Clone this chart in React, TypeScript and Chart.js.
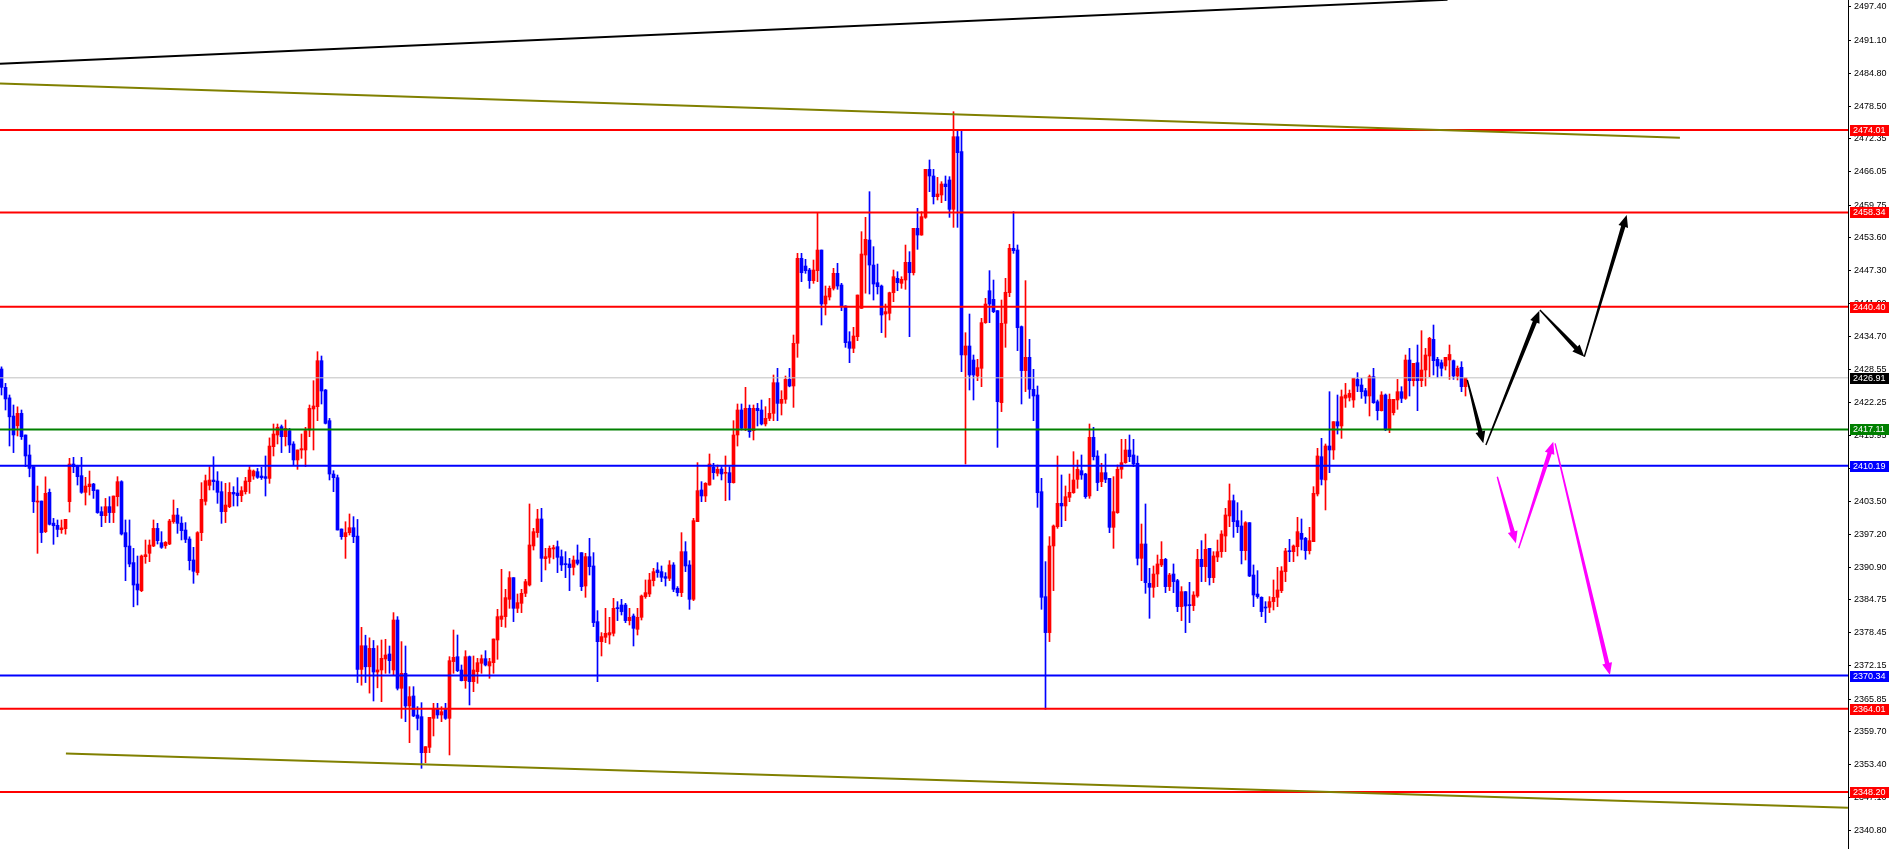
import React, { useEffect, useRef } from "react";
import { Chart, registerables } from "chart.js";
Chart.register(...registerables);

// ---- Candle data (index 0 = leftmost bar) ----
const OPEN = [
2428.59,2425.1,2423.1,2419.65,2417.8,2420.16,2416.05,2412.25,2410.03,2403.3,
2403.5,2397.68,2405.15,2399.3,2398.88,2398.05,2398.24,2403.38,2410.53,2410.2,
2408.32,2405.15,2406.23,2406.73,2405.6,2401.48,2400.72,2402.43,2401.3,2404.33,
2407.18,2397.49,2394.95,2391.8,2387.73,2386.46,2392.92,2393.56,2394.95,2398.3,
2395.58,2395.0,2395.33,2399.57,2400.84,2399.3,2397.99,2396.28,2392.3,2389.9,
2397.49,2403.44,2406.48,2407.49,2407.3,2405.28,2401.48,2402.43,2405.15,2405.02,
2404.52,2405.28,2407.18,2408.25,2409.08,2408.25,2408.13,2407.8,2413.83,2416.05,
2417.63,2415.73,2416.87,2414.34,2411.3,2413.2,2413.2,2417.0,2420.99,2421.43,
2430.17,2424.6,2418.77,2408.63,2407.94,2398.18,2396.72,2397.49,2398.43,2396.85,
2371.5,2376.0,2372.0,2375.5,2371.0,2371.39,2373.48,2374.43,2371.39,2380.89,
2367.91,2370.76,2364.55,2366.45,2362.84,2362.52,2355.68,2356.69,2362.2,2363.92,
2362.84,2364.11,2362.2,2372.98,2373.92,2371.39,2369.36,2373.92,2369.17,2371.07,
2372.66,2373.54,2372.15,2372.78,2377.09,2381.02,2381.53,2384.82,2388.94,2383.11,
2384.06,2385.96,2387.54,2394.96,2397.49,2400.09,2392.55,2392.8,2394.39,2394.83,
2392.93,2391.54,2391.54,2390.9,2392.29,2393.69,2387.35,2392.93,2391.16,2380.58,
2376.77,2377.6,2378.04,2378.36,2383.24,2383.74,2383.74,2380.77,2381.65,2379.12,
2381.4,2385.33,2385.83,2388.37,2390.4,2390.08,2389.13,2388.81,2391.35,2386.91,
2386.09,2393.88,2391.35,2384.82,2399.58,2405.6,2404.46,2406.55,2409.91,2408.77,
2409.59,2408.77,2408.89,2406.99,2416.05,2420.8,2417.31,2421.12,2416.87,2421.12,
2420.8,2418.14,2419.21,2420.16,2425.99,2422.06,2422.83,2426.62,2425.36,2433.47,
2449.62,2448.16,2447.4,2445.38,2447.28,2451.2,2440.94,2442.27,2443.92,2446.77,
2444.55,2440.56,2433.78,2432.52,2434.73,2440.11,2450.25,2453.1,2448.35,2444.99,
2444.36,2439.04,2439.17,2443.09,2445.82,2444.87,2445.5,2448.86,2446.89,2455.32,
2454.05,2457.41,2466.53,2465.27,2461.34,2461.66,2463.75,2464.51,2458.93,2472.74,
2469.89,2431.25,2432.96,2430.3,2427.26,2428.72,2437.4,2443.47,2441.83,2439.68,
2422.19,2437.27,2443.1,2451.53,2451.21,2436.64,2428.28,2430.81,2424.73,2423.65,
2405.28,2385.33,2378.49,2394.96,2398.63,2403.06,2402.56,2404.2,2405.09,2407.62,
2409.27,2408.64,2404.46,2415.61,2412.06,2407.18,2408.89,2407.81,2398.5,2401.29,
2409.53,2410.79,2413.2,2412.25,2410.67,2392.61,2395.34,2387.86,2387.1,2389.63,
2391.35,2392.42,2387.23,2389.63,2388.37,2383.43,2386.28,2383.74,2383.62,2385.45,
2392.42,2391.03,2394.51,2388.94,2392.86,2393.88,2396.85,2400.66,2403.57,2399.77,
2398.76,2394.07,2399.39,2389.44,2385.83,2385.2,2383.3,2383.3,2384.38,2385.2,
2386.47,2390.08,2394.01,2393.88,2394.83,2397.36,2396.41,2394.07,2395.78,2404.84,
2411.93,2407.5,2413.96,2413.2,2418.58,2417.76,2423.05,2423.2,2422.7,2426.62,
2425.55,2424.47,2423.46,2427.13,2422.38,2420.67,2423.65,2417.12,2420.29,2422.7,
2424.28,2423.01,2430.3,2426.37,2429.79,2426.37,2428.4,2431.06,2434.23,2430.43,
2429.79,2429.16,2430.3,2430.17,2427.26,2428.91,2425.23
];
const HIGH = [
2429.0,2425.86,2423.65,2421.75,2421.4,2420.8,2416.05,2414.15,2410.03,2406.35,
2403.5,2408.1,2405.78,2400.2,2399.9,2399.9,2400.02,2411.61,2411.8,2410.3,
2411.8,2408.0,2409.2,2406.86,2405.6,2402.4,2404.0,2404.33,2404.45,2408.13,
2407.36,2399.9,2399.9,2394.5,2393.05,2393.24,2396.09,2396.1,2399.9,2399.26,
2397.68,2395.8,2400.02,2403.7,2402.1,2400.5,2399.4,2396.7,2394.7,2397.68,
2406.99,2408.44,2410.03,2411.93,2409.08,2407.18,2406.86,2406.99,2406.23,2407.94,
2406.23,2408.0,2410.03,2409.4,2409.7,2409.9,2412.06,2415.5,2418.14,2418.14,
2417.95,2418.9,2417.3,2414.78,2413.2,2416.24,2417.5,2421.75,2426.37,2431.88,
2431.06,2424.7,2419.2,2409.27,2408.44,2398.2,2399.57,2401.04,2400.53,2400.0,
2379.5,2378.0,2377.5,2377.0,2376.0,2377.09,2377.22,2375.95,2382.29,2381.53,
2376.78,2375.95,2368.22,2368.22,2364.42,2365.18,2356.82,2362.39,2365.05,2365.05,
2364.42,2365.05,2373.92,2378.99,2378.04,2372.34,2375.06,2374.05,2374.05,2373.61,
2374.24,2375.06,2373.61,2377.28,2382.92,2390.52,2386.72,2390.08,2388.94,2385.83,
2386.72,2388.62,2402.94,2398.31,2401.92,2402.11,2394.51,2394.96,2395.1,2395.91,
2394.2,2393.88,2392.61,2393.06,2395.15,2393.69,2393.56,2396.41,2393.69,2382.67,
2378.49,2383.11,2381.4,2385.01,2384.38,2384.82,2384.06,2383.11,2382.03,2383.11,
2385.64,2388.5,2389.76,2390.71,2391.79,2391.16,2389.89,2392.17,2391.79,2387.23,
2397.49,2395.78,2392.17,2400.21,2410.79,2407.18,2406.99,2412.44,2410.67,2410.35,
2410.03,2412.06,2410.03,2418.77,2421.94,2421.94,2425.11,2421.75,2421.75,2422.06,
2422.7,2421.43,2423.01,2427.45,2428.72,2424.47,2427.26,2428.72,2435.05,2450.57,
2450.57,2449.43,2447.72,2449.3,2458.17,2451.2,2444.36,2444.36,2447.72,2448.67,
2444.87,2440.6,2435.68,2436.51,2442.65,2454.69,2457.41,2462.29,2451.84,2448.54,
2444.55,2440.94,2443.2,2447.4,2447.08,2446.13,2452.15,2450.89,2455.32,2459.12,
2458.49,2466.53,2468.31,2466.53,2465.01,2464.19,2465.27,2465.14,2477.49,2473.88,
2473.88,2435.49,2439.04,2431.25,2430.43,2438.22,2442.02,2447.28,2445.5,2439.7,
2441.7,2445.82,2452.29,2458.49,2452.16,2436.77,2445.38,2434.23,2428.53,2425.36,
2407.81,2391.98,2396.73,2398.95,2412.06,2408.45,2406.36,2408.64,2412.88,2411.3,
2412.25,2408.77,2418.14,2417.51,2413.07,2410.67,2412.44,2407.81,2408.13,2410.35,
2415.23,2415.23,2416.05,2415.23,2412.06,2399.13,2402.94,2390.71,2391.16,2393.24,
2395.78,2392.61,2389.76,2391.54,2388.62,2387.23,2386.3,2388.05,2386.28,2394.32,
2395.97,2397.23,2394.51,2393.88,2396.09,2397.87,2402.11,2406.74,2404.65,2403.19,
2401.67,2399.58,2399.4,2391.35,2390.27,2385.3,2384.38,2385.33,2388.5,2390.9,
2391.03,2394.51,2396.22,2395.15,2400.4,2400.09,2396.6,2398.5,2406.23,2413.52,
2415.42,2414.34,2424.28,2418.58,2423.65,2424.6,2425.86,2424.6,2426.81,2427.89,
2426.81,2424.91,2427.45,2428.72,2422.7,2424.28,2423.84,2423.84,2422.82,2426.62,
2425.23,2431.25,2432.51,2429.67,2433.15,2435.87,2432.51,2434.61,2436.95,2430.81,
2430.3,2430.81,2433.15,2430.3,2429.16,2429.98,2426.81
];
const LOW = [
2423.65,2420.8,2413.96,2412.7,2415.86,2415.2,2410.03,2408.1,2401.3,2393.56,
2395.6,2397.5,2398.94,2395.27,2396.7,2397.36,2397.2,2401.41,2408.89,2406.54,
2404.96,2402.74,2404.64,2404.0,2401.16,2398.63,2399.4,2399.4,2399.4,2402.55,
2397.04,2388.36,2391.0,2383.4,2383.74,2386.27,2391.66,2391.97,2394.83,2395.33,
2394.5,2394.5,2395.2,2399.26,2397.36,2396.1,2395.6,2390.4,2387.86,2389.44,
2395.96,2402.74,2405.6,2405.6,2403.06,2399.26,2399.4,2402.24,2402.55,2402.55,
2403.38,2404.83,2404.96,2407.62,2407.8,2407.6,2404.45,2406.86,2412.06,2414.34,
2412.7,2413.96,2412.7,2410.35,2409.52,2411.61,2410.03,2415.73,2413.2,2418.77,
2421.94,2418.14,2407.5,2405.28,2397.99,2396.22,2392.6,2397.04,2395.58,2369.0,
2368.5,2369.0,2367.0,2365.5,2368.0,2365.37,2370.76,2370.76,2370.44,2367.59,
2362.2,2361.57,2357.58,2362.52,2360.0,2352.7,2353.78,2355.68,2358.85,2362.2,
2361.57,2362.0,2355.24,2370.76,2371.07,2369.3,2367.91,2364.74,2367.27,2368.86,
2370.76,2372.15,2369.81,2370.76,2373.42,2379.63,2379.5,2383.11,2380.58,2382.29,
2382.29,2385.33,2387.35,2394.19,2396.6,2388.18,2390.4,2391.66,2392.5,2389.89,
2390.27,2388.94,2386.47,2389.44,2391.35,2386.47,2385.2,2389.44,2379.63,2369.17,
2374.05,2376.59,2376.33,2377.85,2380.77,2381.84,2380.39,2379.94,2375.95,2378.04,
2380.89,2385.01,2385.33,2387.35,2389.0,2388.18,2387.35,2388.37,2386.28,2385.45,
2385.33,2390.08,2382.92,2384.57,2399.58,2403.38,2403.38,2406.5,2407.63,2408.26,
2407.5,2403.57,2403.7,2406.9,2413.95,2416.99,2416.87,2415.6,2415.1,2417.76,
2417.95,2417.76,2418.77,2418.77,2418.77,2419.85,2422.06,2425.2,2421.3,2430.81,
2445.19,2446.77,2443.92,2444.87,2445.19,2436.95,2438.85,2441.7,2443.6,2443.73,
2439.68,2432.71,2429.79,2431.69,2433.97,2440.11,2443.0,2442.84,2441.7,2442.84,
2435.49,2434.61,2437.9,2441.38,2443.47,2443.92,2443.73,2434.73,2446.45,2451.33,
2454.0,2457.22,2462.29,2459.95,2460.71,2460.2,2460.58,2457.41,2455.51,2455.51,
2428.08,2410.53,2424.6,2422.7,2426.37,2425.23,2437.27,2437.4,2439.3,2413.7,
2420.49,2432.71,2442.34,2450.57,2432.08,2421.94,2424.29,2423.02,2418.77,2402.3,
2382.92,2363.91,2376.78,2386.47,2398.31,2398.63,2399.77,2403.38,2404.96,2405.91,
2407.62,2404.01,2404.01,2411.3,2405.47,2406.23,2406.99,2397.49,2394.51,2401.16,
2407.81,2410.67,2410.98,2410.03,2391.35,2388.37,2385.96,2381.21,2385.2,2387.23,
2391.03,2386.09,2386.47,2386.09,2382.48,2380.77,2378.49,2380.39,2382.67,2385.2,
2388.18,2388.18,2387.54,2387.99,2391.98,2392.8,2393.88,2398.63,2396.6,2397.49,
2391.54,2392.29,2389.13,2383.43,2385.01,2381.53,2380.39,2382.29,2382.79,2383.43,
2386.09,2388.18,2391.98,2391.98,2393.06,2394.19,2392.42,2393.43,2395.78,2404.46,
2406.55,2401.8,2408.89,2411.42,2416.23,2415.41,2421.3,2422.5,2421.3,2424.28,
2423.01,2422.06,2419.66,2422.06,2418.9,2420.6,2416.87,2416.49,2419.85,2420.92,
2422.19,2422.82,2423.46,2425.36,2420.67,2425.23,2425.36,2427.13,2427.45,2427.0,
2427.26,2428.4,2426.62,2426.62,2426.5,2424.28,2423.46
];
const CLOSE = [
2425.1,2422.9,2419.5,2416.05,2420.16,2415.73,2412.06,2409.7,2403.38,2403.5,
2397.5,2404.96,2399.07,2398.8,2398.1,2398.4,2400.02,2410.53,2410.03,2408.13,
2405.15,2406.35,2406.73,2405.47,2401.3,2400.72,2402.43,2401.3,2404.45,2407.18,
2397.23,2394.8,2391.53,2387.54,2386.6,2393.05,2393.3,2395.14,2398.3,2395.96,
2394.7,2395.65,2399.7,2400.84,2399.26,2397.87,2396.2,2392.16,2390.14,2397.49,
2403.82,2407.36,2407.49,2407.18,2405.15,2401.48,2402.74,2405.15,2404.83,2404.52,
2405.47,2407.3,2409.4,2409.2,2408.0,2407.94,2407.8,2413.95,2416.24,2417.5,
2415.73,2417.3,2414.15,2411.3,2413.2,2413.45,2416.87,2421.11,2421.56,2430.17,
2424.41,2418.26,2408.63,2407.94,2397.99,2396.72,2397.49,2398.43,2396.72,2371.5,
2376.0,2372.0,2375.5,2371.0,2371.4,2373.61,2374.24,2373.16,2380.89,2367.91,
2370.76,2364.55,2366.32,2362.65,2362.2,2355.68,2356.82,2362.39,2364.11,2362.84,
2363.47,2362.2,2373.16,2373.8,2371.26,2369.36,2373.92,2369.17,2371.39,2372.78,
2373.54,2372.34,2372.98,2377.28,2381.53,2381.65,2385.14,2388.94,2383.11,2384.19,
2385.96,2388.18,2395.15,2397.68,2400.09,2392.61,2392.93,2394.51,2394.64,2392.8,
2391.35,2391.41,2390.84,2392.29,2391.66,2387.23,2392.93,2391.03,2380.39,2376.77,
2377.73,2378.36,2378.49,2383.11,2383.05,2382.48,2380.77,2381.4,2379.31,2381.4,
2385.45,2386.09,2388.5,2390.08,2389.89,2389.0,2388.81,2391.35,2386.72,2386.09,
2393.88,2391.16,2384.82,2399.77,2405.47,2404.46,2406.86,2410.54,2408.89,2409.53,
2408.64,2408.89,2406.99,2416.05,2420.8,2417.31,2421.12,2416.68,2421.12,2420.67,
2418.14,2419.21,2420.16,2425.99,2422.06,2422.83,2426.62,2425.36,2433.47,2449.62,
2446.89,2447.28,2445.38,2447.4,2451.2,2440.94,2442.46,2443.92,2446.77,2444.36,
2440.43,2433.59,2432.52,2434.86,2442.65,2450.44,2453.23,2448.35,2444.74,2444.24,
2438.85,2439.49,2443.09,2446.13,2445.0,2445.63,2448.86,2446.89,2455.32,2454.05,
2457.54,2466.53,2465.27,2461.34,2461.85,2463.75,2463.24,2458.93,2472.74,2469.7,
2431.25,2432.96,2427.45,2427.45,2428.85,2437.4,2440.94,2440.94,2439.49,2422.38,
2437.27,2443.17,2451.53,2451.08,2436.45,2428.28,2430.81,2424.73,2423.46,2405.09,
2385.2,2378.49,2394.96,2398.76,2403.06,2402.56,2404.33,2405.15,2407.5,2409.53,
2408.45,2404.33,2415.61,2411.93,2407.0,2408.89,2407.62,2398.5,2401.48,2409.53,
2410.79,2413.2,2411.93,2410.54,2392.61,2395.34,2387.99,2387.1,2389.63,2391.54,
2392.42,2387.23,2389.44,2388.18,2383.43,2386.28,2383.55,2383.62,2385.64,2392.42,
2391.03,2394.32,2388.94,2393.06,2393.88,2397.23,2400.85,2403.57,2399.58,2398.63,
2394.07,2399.39,2389.25,2385.64,2385.33,2382.48,2383.17,2384.38,2385.2,2386.6,
2390.21,2394.01,2393.88,2394.96,2397.68,2396.22,2394.07,2395.97,2404.96,2412.06,
2407.62,2413.96,2413.2,2418.58,2417.76,2423.33,2423.65,2423.96,2426.81,2425.36,
2424.28,2423.46,2427.13,2422.19,2420.67,2423.65,2417.12,2422.82,2422.82,2424.28,
2423.01,2430.3,2426.37,2429.67,2426.37,2428.4,2431.25,2434.42,2430.17,2429.16,
2428.72,2430.81,2431.35,2427.26,2428.72,2425.23,2426.91
];

// ---- Axis tick labels (right price scale) ----
const Y_TICKS = [
  2497.4, 2491.1, 2484.8, 2478.5, 2472.35, 2466.05, 2459.75, 2453.6, 2447.3, 2441.0,
  2434.7, 2428.55, 2422.25, 2415.95, 2409.65, 2403.5, 2397.2, 2390.9, 2384.75, 2378.45,
  2372.15, 2365.85, 2359.7, 2353.4, 2347.1, 2340.8,
];

// ---- Horizontal levels ----
const RED_LEVELS = [2474.01, 2458.34, 2440.4, 2364.01, 2348.2];
const GREEN_LEVELS = [2417.11];
const BLUE_LEVELS = [2410.19, 2370.34];
const LAST_PRICE = 2426.91;

// ---- Trend lines: [barIndex, price] ----
const BLACK_TREND = [[-0.375, 2486.59], [361.5, 2498.75]];
const OLIVE_TOP = [[-0.375, 2482.87], [419.6, 2472.55]];
const OLIVE_BOTTOM = [[16.1, 2355.5], [461.6, 2345.2]];

// ---- Projection arrows: [fromIndex, fromPrice, toIndex, toPrice] ----
const BLACK_ARROWS = [
  [366.45, 2426.5, 370.45, 2414.47],
  [371.1, 2414.15, 384.45, 2439.67],
  [384.6, 2439.8, 395.7, 2430.93],
  [395.7, 2430.93, 406.3, 2457.86],
];
const MAGENTA_ARROWS = [
  [373.95, 2408.12, 378.6, 2395.46],
  [379.3, 2394.52, 387.95, 2414.75],
  [388.4, 2414.47, 402.1, 2370.44],
];

const X_MIN = -0.375;
const X_MAX = 461.625;
const Y_MIN = 2337.37;
const Y_MAX = 2498.716;

const UP = "#ff0000";
const DOWN = "#0000ff";
const FONT = '"Liberation Sans", Arial, sans-serif';

function arrowPath(ctx: CanvasRenderingContext2D, x0: number, y0: number, x1: number, y1: number, color: string) {
  const dx = x1 - x0, dy = y1 - y0;
  const len = Math.hypot(dx, dy);
  if (len < 1) return;
  const ux = dx / len, uy = dy / len;
  const nx = -uy, ny = ux;
  const headLen = Math.min(12, len * 0.4);
  const headHalf = 5;
  const w0 = 0.7, w1 = 2.2;
  const bx = x1 - ux * headLen, by = y1 - uy * headLen;
  ctx.fillStyle = color;
  ctx.beginPath();
  ctx.moveTo(x0 + nx * w0, y0 + ny * w0);
  ctx.lineTo(bx + nx * w1, by + ny * w1);
  ctx.lineTo(bx + nx * headHalf, by + ny * headHalf);
  ctx.lineTo(x1, y1);
  ctx.lineTo(bx - nx * headHalf, by - ny * headHalf);
  ctx.lineTo(bx - nx * w1, by - ny * w1);
  ctx.lineTo(x0 - nx * w0, y0 - ny * w0);
  ctx.closePath();
  ctx.fill();
}

const arrowPlugin = {
  id: "arrows",
  afterDatasetsDraw(chart: any) {
    const { ctx, scales } = chart;
    const xs = scales.x, ys = scales.y;
    ctx.save();
    const draw = (list: number[][], color: string) => {
      for (const [a, b, c, d] of list) {
        arrowPath(ctx, xs.getPixelForValue(a), ys.getPixelForValue(b), xs.getPixelForValue(c), ys.getPixelForValue(d), color);
      }
    };
    draw(BLACK_ARROWS, "#000000");
    draw(MAGENTA_ARROWS, "#ff00ff");
    ctx.restore();
  },
};

const tagPlugin = {
  id: "priceTags",
  afterDraw(chart: any) {
    const { ctx, chartArea } = chart;
    const ys = chart.scales.y;
    const tags: [number, string][] = [
      ...RED_LEVELS.map((v) => [v, "#ff0000"] as [number, string]),
      ...GREEN_LEVELS.map((v) => [v, "#008000"] as [number, string]),
      ...BLUE_LEVELS.map((v) => [v, "#0000ff"] as [number, string]),
      [LAST_PRICE, "#000000"],
    ];
    ctx.save();
    ctx.font = `9px ${FONT}`;
    ctx.textBaseline = "middle";
    ctx.textAlign = "left";
    for (const [v, c] of tags) {
      const py = Math.round(ys.getPixelForValue(v));
      ctx.fillStyle = c;
      ctx.fillRect(chartArea.right + 2, py - 5, 41, 11);
      ctx.fillStyle = "#ffffff";
      ctx.fillText(v.toFixed(2), chartArea.right + 5, py + 0.5);
    }
    ctx.restore();
  },
};

export default function App() {
  const ref = useRef<HTMLCanvasElement | null>(null);

  useEffect(() => {
    if (!ref.current) return;
    const idx = OPEN.map((_, i) => i);
    const colors = idx.map((i) => (CLOSE[i] >= OPEN[i] ? UP : DOWN));
    const wicks = idx.map((i) => ({ x: i, y: [LOW[i], HIGH[i]] }));
    const bodies = idx.map((i) => ({ x: i, y: [OPEN[i], CLOSE[i]] }));

    const hLine = (v: number, color: string, width: number) => ({
      type: "line" as const,
      data: [{ x: X_MIN, y: v }, { x: X_MAX, y: v }],
      borderColor: color,
      borderWidth: width,
      pointRadius: 0,
      order: 1,
    });
    const tLine = (pts: number[][], color: string, width: number) => ({
      type: "line" as const,
      data: pts.map(([x, y]) => ({ x, y })),
      borderColor: color,
      borderWidth: width,
      pointRadius: 0,
      order: 0,
    });

    const chart = new Chart(ref.current, {
      type: "bar",
      data: {
        datasets: [
          tLine(BLACK_TREND, "#000000", 2),
          tLine(OLIVE_TOP, "#808000", 2),
          tLine(OLIVE_BOTTOM, "#808000", 2),
          hLine(LAST_PRICE, "#c0c0c0", 1),
          ...RED_LEVELS.map((v) => hLine(v, "#ff0000", 2)),
          ...GREEN_LEVELS.map((v) => hLine(v, "#008000", 2)),
          ...BLUE_LEVELS.map((v) => hLine(v, "#0000ff", 2)),
          {
            type: "bar" as const,
            data: bodies as any,
            backgroundColor: colors,
            barThickness: 3,
            grouped: false,
            minBarLength: 1,
            order: 5,
          },
          {
            type: "bar" as const,
            data: wicks as any,
            backgroundColor: colors,
            barThickness: 1,
            grouped: false,
            order: 6,
          },
        ] as any,
      },
      options: {
        animation: false,
        responsive: false,
        maintainAspectRatio: false,
        layout: { padding: 0 },
        events: [],
        plugins: { legend: { display: false }, tooltip: { enabled: false } },
        scales: {
          x: { type: "linear", min: X_MIN, max: X_MAX, offset: false, display: false, grid: { offset: false } },
          y: {
            type: "linear",
            position: "right",
            min: Y_MIN,
            max: Y_MAX,
            afterBuildTicks: (s: any) => {
              s.ticks = Y_TICKS.map((v) => ({ value: v }));
            },
            afterFit: (s: any) => {
              s.width = 41;
              s.paddingTop = 0;
              s.paddingBottom = 0;
            },
            ticks: {
              autoSkip: false,
              color: "#000000",
              padding: 3,
              font: { family: FONT, size: 9 },
              callback: (v: any) => Number(v).toFixed(2),
            },
            grid: { drawOnChartArea: false, drawTicks: true, tickLength: 3, color: "#000000" },
            border: { display: true, color: "#000000", width: 1 },
          },
        },
      } as any,
      plugins: [arrowPlugin, tagPlugin],
    });
    return () => chart.destroy();
  }, []);

  return (
    <div style={{ width: 1889, height: 849, background: "#ffffff", overflow: "hidden" }}>
      <style>{`html,body{margin:0;padding:0;overflow:hidden;background:#fff}`}</style>
      <canvas ref={ref} width={1889} height={849} style={{ display: "block", width: 1889, height: 849 }} />
    </div>
  );
}
